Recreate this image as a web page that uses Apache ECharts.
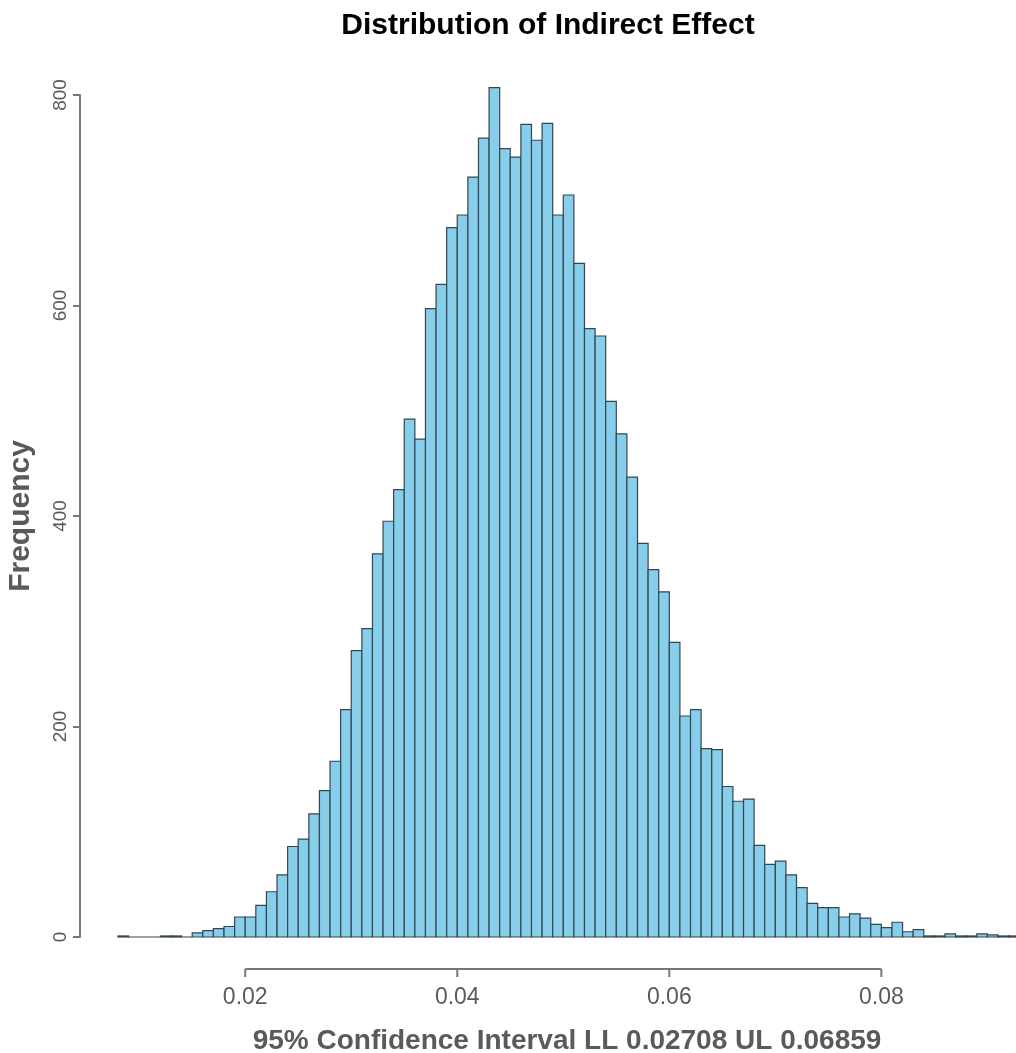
<!DOCTYPE html>
<html>
<head>
<meta charset="utf-8">
<script src="https://cdn.jsdelivr.net/npm/echarts@6/dist/echarts.min.js"></script>
<style>
  html, body { margin: 0; padding: 0; background: #fff; }
  #chart { width: 1016px; height: 1053px; }
</style>
</head>
<body>
<div id="chart"></div>
<script>
// histogram bins: left edge of first bin and bin width
const binStart = 0.008
const binWidth = 0.001

// counts per bin
const counts = [
  1, 0, 0, 0, 1, 1, 0, 4, 6, 8,
  10, 19, 19, 30, 43, 59, 86, 93, 117, 139,
  167, 216, 272, 293, 364, 395, 425, 492, 473, 597,
  620, 674, 686, 722, 759, 807, 749, 741, 772, 757,
  773, 686, 705, 640, 578, 571, 509, 478, 437, 374,
  349, 328, 280, 210, 216, 179, 178, 143, 129, 131,
  87, 69, 72, 59, 47, 32, 28, 28, 19, 22,
  18, 12, 9, 14, 5, 7, 1, 1, 3, 1,
  1, 3, 2, 1, 1
]

const xTicks = [0.02, 0.04, 0.06, 0.08]

const FONT = "'Liberation Sans', Arial, sans-serif"
const GREY = '#5a5a5a'
const AXIS_GREY = '#777'
const X_OFFSET = 32

const chart = echarts.init(document.getElementById('chart'))

// [left edge, right edge, count]
const bins = counts.map((c, i) => [binStart + i * binWidth, binStart + (i + 1) * binWidth, c])

const option = {
  animation: false,
  backgroundColor: '#fff',
  title: {
    text: 'Distribution of Indirect Effect',
    left: 543,
    top: 6,
    textAlign: 'center',
    textStyle: { fontFamily: FONT, fontSize: 30, fontWeight: 'bold', color: '#000' }
  },
  grid: { left: 118, right: 0, top: 95, bottom: 116, outerBoundsMode: 'none', containLabel: false },
  xAxis: {
    type: 'value',
    min: 0.008,
    max: 0.0927,
    offset: X_OFFSET,
    name: '95% Confidence Interval LL 0.02708 UL 0.06859',
    nameLocation: 'middle',
    nameGap: 58,
    nameTextStyle: { fontFamily: FONT, fontSize: 28, fontWeight: 'bold', color: GREY },
    axisLine: { show: false },
    axisTick: { show: false },
    axisLabel: {
      customValues: xTicks,
      formatter: v => v.toFixed(2),
      margin: 17,
      fontFamily: FONT, fontSize: 23, color: GREY
    },
    splitLine: { show: false }
  },
  yAxis: {
    type: 'value',
    min: 0,
    max: 800,
    interval: 200,
    offset: 38,
    name: 'Frequency',
    nameLocation: 'middle',
    nameGap: 44,
    nameTextStyle: { fontFamily: FONT, fontSize: 30, fontWeight: 'bold', color: GREY },
    axisLine: { show: true, lineStyle: { color: AXIS_GREY, width: 2 } },
    axisTick: { show: true, length: 7, lineStyle: { color: AXIS_GREY, width: 2 } },
    axisLabel: { rotate: 90, margin: 10, fontFamily: FONT, fontSize: 19, color: GREY },
    splitLine: { show: false }
  },
  series: [
    {
      type: 'custom',
      clip: false,
      silent: true,
      data: bins,
      encode: { x: [0, 1], y: 2 },
      renderItem: function (params, api) {
        const p0 = api.coord([api.value(0), api.value(2)])
        const p1 = api.coord([api.value(1), 0])
        return {
          type: 'rect',
          shape: { x: p0[0], y: p0[1], width: p1[0] - p0[0], height: p1[1] - p0[1] },
          style: { fill: '#87CEEB', stroke: '#36454f', lineWidth: 1.2 }
        }
      }
    },
    {
      // R-style x axis: line only spans the tick range, ticks pointing down
      type: 'custom',
      clip: false,
      silent: true,
      data: [[xTicks[0], xTicks[xTicks.length - 1]]],
      encode: { x: [0, 1] },
      renderItem: function (params, api) {
        const a = api.coord([api.value(0), 0])
        const b = api.coord([api.value(1), 0])
        const y = a[1] + X_OFFSET
        const children = [{
          type: 'line',
          shape: { x1: a[0], y1: y, x2: b[0], y2: y },
          style: { stroke: AXIS_GREY, lineWidth: 2 }
        }]
        xTicks.forEach(t => {
          const p = api.coord([t, 0])
          children.push({
            type: 'line',
            shape: { x1: p[0], y1: y, x2: p[0], y2: y + 8 },
            style: { stroke: AXIS_GREY, lineWidth: 2 }
          })
        })
        return { type: 'group', children: children }
      }
    }
  ]
}

chart.setOption(option)
</script>
</body>
</html>
